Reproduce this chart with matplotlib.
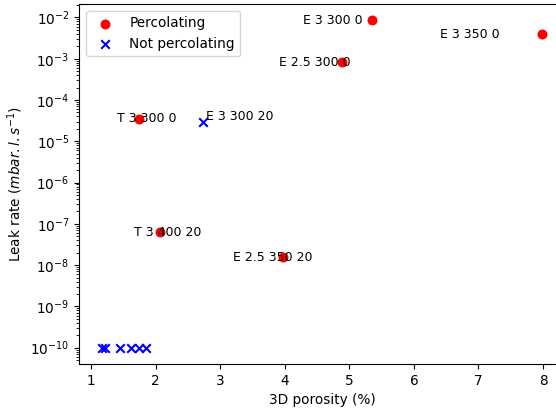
import matplotlib
matplotlib.use("Agg")
import matplotlib.pyplot as plt

# percolating samples
perc_x = [5.35, 7.98, 4.88, 1.74, 2.07, 3.98]
perc_y = [8.5e-3, 3.9e-3, 8.3e-4, 3.5e-5, 6.2e-8, 1.53e-8]

# not percolating samples
nperc_x = [2.73, 1.17, 1.22, 1.45, 1.62, 1.74, 1.85]
nperc_y = [2.95e-5, 1e-10, 1e-10, 1e-10, 1e-10, 1e-10, 1e-10]

# sample labels (text left x, text y)
labels = ["E 3 300 0", "E 3 350 0", "E 2.5 300 0", "T 3 300 0",
          "E 3 300 20", "T 3 400 20", "E 2.5 350 20"]
label_x = [4.28, 6.40, 3.91, 1.40, 2.78, 1.67, 3.20]
label_y = [8.5e-3, 3.9e-3, 8.3e-4, 3.5e-5, 3.9e-5, 6.2e-8, 1.53e-8]

plt.rcParams["font.size"] = 9.8

fig = plt.figure(figsize=(5.56, 4.11), dpi=100)
# right edge of the axes runs past the figure, as in the cropped original
ax = fig.add_axes([79 / 556, 47 / 411, 486 / 556, 360 / 411])

ax.scatter(perc_x, perc_y, color="red", s=38, label="Percolating")
ax.scatter(nperc_x, nperc_y, color="blue", marker="x", s=38, label="Not percolating")

for txt, tx, ty in zip(labels, label_x, label_y):
    ax.text(tx, ty, txt, ha="left", va="center", fontsize=9)

ax.set_yscale("log")
ax.set_xlim(0.814, 8.34)
ax.set_xlabel("3D porosity (%)")
ax.set_ylabel(r"Leak rate ($mbar.l.s^{-1}$)")
ax.legend(loc="upper left")

fig.savefig("out.png", dpi=100)
